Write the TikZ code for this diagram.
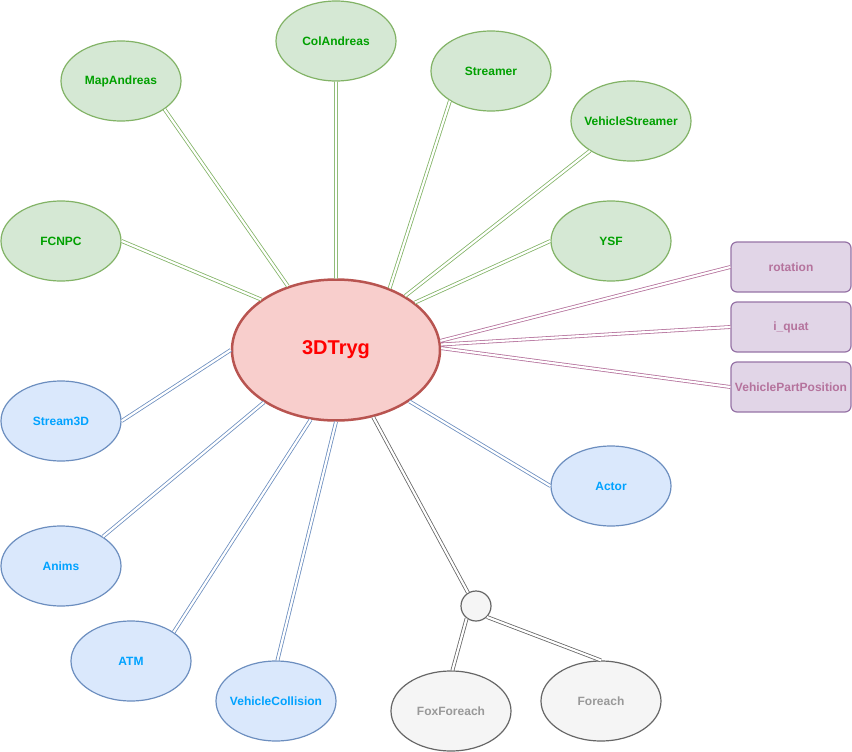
\documentclass[tikz,border=0pt]{standalone}
\usepackage{fontspec}
\setmainfont{Liberation Sans}
\usetikzlibrary{shapes.geometric}
\definecolor{grnfill}{HTML}{D5E8D4}
\definecolor{grnline}{HTML}{82B366}
\definecolor{grntext}{HTML}{00A000}
\definecolor{blufill}{HTML}{DAE8FC}
\definecolor{bluline}{HTML}{6C8EBF}
\definecolor{blutext}{HTML}{00A2FF}
\definecolor{purfill}{HTML}{E1D5E7}
\definecolor{purline}{HTML}{9673A6}
\definecolor{purtext}{HTML}{B5739D}
\definecolor{gryfill}{HTML}{F5F5F5}
\definecolor{gryline}{HTML}{666666}
\definecolor{grytext}{HTML}{999999}
\definecolor{redfill}{HTML}{F8CECC}
\definecolor{redline}{HTML}{B85450}
\tikzset{
  lib/.style={ellipse, draw, line width=1.2pt, minimum width=120pt, minimum height=80pt,
              inner xsep=-15pt, inner ysep=0pt, font=\fontsize{12}{14}\selectfont\bfseries},
  greenlib/.style={lib, fill=grnfill, draw=grnline, text=grntext},
  bluelib/.style={lib, fill=blufill, draw=bluline, text=blutext},
  greylib/.style={lib, fill=gryfill, draw=gryline, text=grytext},
  param/.style={rectangle, rounded corners=6pt, draw=purline, fill=purfill, text=purtext,
                line width=1.2pt, minimum width=120pt, minimum height=50pt, inner sep=0pt,
                font=\fontsize{12}{14}\selectfont\bfseries},
  link/.style={double=white, double distance=2.2pt, line width=0.8pt}
}
\begin{document}
\begin{tikzpicture}[x=1pt, y=-1pt]
      \useasboundingbox (0, 0) rectangle (852, 752);
      % core
      \node (tryg) [ellipse, draw=redline, fill=redfill, line width=2.5pt, minimum width=208pt,
                    minimum height=141pt, text=red, font=\fontsize{20}{24}\selectfont\bfseries]
            at (336, 350) {3DTryg};
      % green libraries
      \node (mapa) [greenlib] at (121, 81) {MapAndreas};
      \node (cola) [greenlib] at (336, 41) {ColAndreas};
      \node (strm) [greenlib] at (491, 71) {Streamer};
      \node (vstrm) [greenlib] at (631, 121) {VehicleStreamer};
      \node (fcnpc) [greenlib] at (61, 241) {FCNPC};
      \node (ysf) [greenlib] at (611, 241) {YSF};
      % purple params
      \node (rot) [param] at (791, 267) {rotation};
      \node (quat) [param] at (791, 327) {i\_quat};
      \node (vpp) [param] at (791, 387) {VehiclePartPosition};
      % blue libraries
      \node (s3d) [bluelib] at (61, 421) {Stream3D};
      \node (actor) [bluelib] at (611, 486) {Actor};
      \node (anims) [bluelib] at (61, 566) {Anims};
      \node (atm) [bluelib] at (131, 661) {ATM};
      \node (vcol) [bluelib] at (276, 701) {VehicleCollision};
      % grey branch
      \node (hub) [circle, draw=gryline, fill=gryfill, line width=1.2pt, minimum size=30pt,
                   inner sep=0pt] at (476, 606) {};
      \node (fox) [greylib] at (451, 711) {FoxForeach};
      \node (fore) [greylib] at (601, 701) {Foreach};
      % links
      \draw[link, grnline] (mapa.-33) -- (tryg.127)
                           (cola.south) -- (tryg.north)
                           (strm.-144) -- (tryg.49)
                           (vstrm.-144) -- (tryg.38)
                           (fcnpc.east) -- (tryg.146)
                           (ysf.west) -- (tryg.31);
      \draw[link, purtext] (rot.west) -- (tryg.5)
                           (quat.west) -- (tryg.3.3)
                           (vpp.west) -- (tryg.1.6);
      \draw[link, bluline] (s3d.east) -- (tryg.west)
                           (actor.west) -- (tryg.-35)
                           (anims.35) -- (tryg.-144)
                           (atm.34) -- (tryg.-110)
                           (vcol.88) -- (tryg.-90);
      \draw[link, gryline] (tryg.-61) -- (hub.121)
                           (hub.-127) -- (fox.88)
                           (hub.-45) -- (fore.90);
\end{tikzpicture}
\end{document}
